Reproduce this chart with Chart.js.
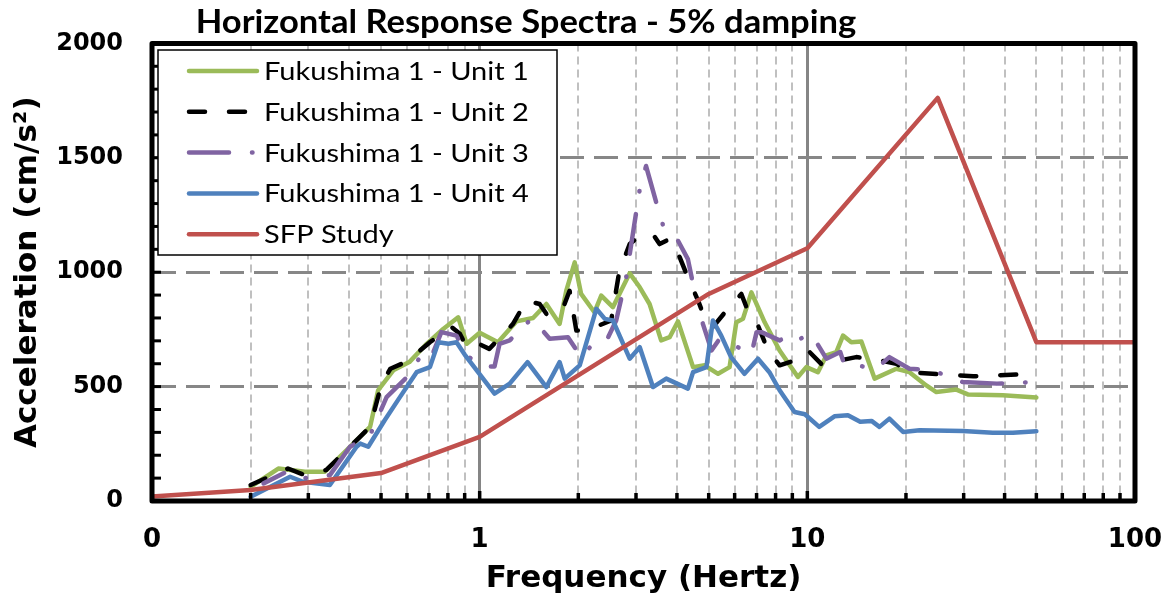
<!DOCTYPE html>
<html>
<head>
<meta charset="utf-8">
<script src="https://cdn.jsdelivr.net/npm/chart.js@4.4.1/dist/chart.umd.min.js"></script>
<style>
html,body{margin:0;padding:0;background:#ffffff;}
#wrap{width:1167px;height:602px;position:relative;}
</style>
</head>
<body>
<div id="wrap"><canvas id="c" width="1167" height="602"></canvas></div>
<script>
// ---------- text ----------
const chartTitle = 'Horizontal Response Spectra - 5% damping';
const xAxisTitle = 'Frequency (Hertz)';
const yAxisTitle = 'Acceleration (cm/s²)';
const seriesLabels = ['Fukushima 1 - Unit 1','Fukushima 1 - Unit 2','Fukushima 1 - Unit 3','Fukushima 1 - Unit 4','SFP Study'];

// ---------- tick values ----------
const frequencyTicks = [0.1,0.2,0.3,0.4,0.5,0.6,0.7,0.8,0.9,1,2,3,4,5,6,7,8,9,10,20,30,40,50,60,70,80,90,100];
const frequencyLabelValues = [0.1,1,10,100];
const frequencyLabelTexts = ['0','1','10','100'];
const accelerationTicks = [0,500,1000,1500,2000];
const accelerationTickLabels = ['0','500','1000','1500','2000'];

// ---------- series (Hz, cm/s²) ----------
const unit1Freq = [0.2,0.243,0.293,0.337,0.402,0.463,0.49,0.545,0.61,0.689,0.774,0.86,0.913,1.0,1.137,1.294,1.455,1.598,1.754,1.838,1.95,2.04,2.24,2.35,2.55,2.87,3.08,3.3,3.58,3.8,4.03,4.48,4.86,5.34,5.79,6.07,6.36,6.75,7.41,8.23,9.36,9.93,10.77,11.43,12.26,12.85,13.62,14.62,16.04,18.69,20.5,23.07,24.76,28.5,30.9,39.5,50];
const unit1Acc  = [62,142,128,128,237,324,484,571,607,687,752,803,687,735,694,785,800,861,774,919,1043,905,825,898,847,995,934,861,702,716,785,585,593,556,585,781,796,912,781,658,542,585,563,636,651,723,694,697,535,578,563,505,476,487,466,462,452];

const unit2Freq = [0.2,0.26,0.293,0.34,0.374,0.426,0.463,0.502,0.534,0.594,0.658,0.705,0.821,0.87,0.913,0.965,1.0,1.07,1.264,1.388,1.524,1.598,1.776,1.881,1.973,2.115,2.52,2.67,2.87,3.08,3.38,3.54,3.8,4.08,4.32,4.64,4.92,5.15,5.66,6.29,6.67,7.07,7.59,8.23,9.14,10.05,11.13,11.83,14.1,15.8,18.7,20.5,24.1,32.1,50];
const unit2Acc  = [70,142,113,135,193,273,324,513,578,607,658,694,760,731,672,672,685,665,774,876,861,818,825,919,745,745,789,1007,1123,1159,1166,1123,1145,1065,977,876,780,760,832,905,810,767,658,593,614,658,593,607,629,622,600,563,556,545,556];

const unit3Freq = [0.219,0.258,0.289,0.349,0.402,0.463,0.52,0.594,0.658,0.705,0.764,0.85,0.913,1.02,1.11,1.15,1.235,1.438,1.524,1.635,1.86,2.04,2.22,2.44,2.61,2.8,2.9,3.08,3.22,3.46,3.63,3.98,4.32,4.48,4.8,5.1,5.4,6.29,6.75,7.0,7.24,8.23,8.82,9.36,10.1,10.5,11.43,12.6,13.0,14.1,16.2,17.8,20.5,24.1,29.8,37.9,50];
const unit3Acc  = [77,128,99,113,237,288,454,535,629,614,738,723,636,588,588,687,702,796,760,709,716,629,687,702,789,977,1120,1363,1464,1304,1203,1152,1057,948,774,658,709,665,643,738,738,702,723,702,731,709,622,651,593,593,578,629,578,571,520,513,520];

const unit4Freq = [0.2,0.264,0.289,0.349,0.421,0.432,0.457,0.513,0.571,0.642,0.705,0.748,0.803,0.85,0.9,1.11,1.235,1.4,1.598,1.754,1.818,2.02,2.27,2.41,2.55,2.87,3.08,3.38,3.71,4.32,4.48,4.92,5.15,5.46,5.85,6.43,7.07,7.66,8.23,9.14,9.83,10.87,12.1,13.3,14.5,15.7,16.6,17.8,19.6,22.0,29.8,36.8,42.4,50];
const unit4Acc  = [19,106,84,70,237,251,237,353,454,563,585,694,687,694,640,469,513,607,498,607,535,593,840,796,789,622,672,498,535,491,563,585,789,723,629,556,622,563,484,389,379,324,370,375,346,350,324,360,302,309,306,298,298,305];

const sfpFreq = [0.1,0.2,0.5,1,5,10,25,50,100];
const sfpAcc  = [20,48,122,280,905,1105,1762,694,694];

// ---------- styles ----------
const seriesColors = ['#9BBB59','#000000','#8064A2','#4F81BD','#C0504D'];
const seriesDashes = [[],[16,24],[40,23,0.5,23],[],[]];
const seriesDashOffsets = [0,0,17,0,0];
const seriesLineWidth = 4.5;

function toPoints(freq, acc){ return freq.map((f,i)=>({x:f, y:acc[i]})); }
function isDecade(v){ const l = Math.log10(v); return Math.abs(l - Math.round(l)) < 1e-9; }

const seriesData = [
  toPoints(unit1Freq, unit1Acc),
  toPoints(unit2Freq, unit2Acc),
  toPoints(unit3Freq, unit3Acc),
  toPoints(unit4Freq, unit4Acc),
  toPoints(sfpFreq, sfpAcc)
];
const drawOrder = [4,3,2,1,0];

const datasets = seriesData.map((d,i)=>({
  label: seriesLabels[i],
  data: d,
  borderColor: seriesColors[i],
  backgroundColor: seriesColors[i],
  borderWidth: seriesLineWidth,
  borderDash: seriesDashes[i],
  borderDashOffset: seriesDashOffsets[i],
  borderCapStyle: 'round',
  borderJoinStyle: 'round',
  pointRadius: 0,
  pointHoverRadius: 0,
  tension: 0,
  fill: false,
  order: drawOrder[i]
}));

const TICK_FONT = 'DejaVu Sans';

const frameAndTicks = {
  id: 'frameAndTicks',
  afterDatasetsDraw(chart){
    const {ctx, chartArea:{left,right,top,bottom}, scales:{x,y}} = chart;
    ctx.save();
    ctx.strokeStyle = '#000';
    ctx.lineCap = 'butt';
    ctx.lineWidth = 3;
    for (let v = 0; v <= 2000; v += 100){
      const py = y.getPixelForValue(v);
      ctx.beginPath(); ctx.moveTo(left, py); ctx.lineTo(left + 9, py); ctx.stroke();
    }
    ctx.lineWidth = 3.5;
    x.ticks.forEach(t=>{
      const px = x.getPixelForValue(t.value);
      const len = isDecade(t.value) ? 10 : 8;
      ctx.beginPath(); ctx.moveTo(px, bottom); ctx.lineTo(px, bottom - len); ctx.stroke();
    });
    ctx.lineWidth = 5;
    ctx.lineJoin = 'round';
    ctx.strokeRect(left, top, right - left, bottom - top);
    ctx.restore();
  }
};

const boxLegend = {
  id: 'boxLegend',
  afterDraw(chart){
    const {ctx} = chart;
    const bx = 158, by = 50, bw = 399, bh = 205;
    ctx.save();
    ctx.fillStyle = '#fff';
    ctx.fillRect(bx, by, bw, bh);
    ctx.strokeStyle = '#000';
    ctx.lineWidth = 1.5;
    ctx.strokeRect(bx, by, bw, bh);
    const rowY0 = 71, rowStep = 40.8;
    chart.data.datasets.forEach((ds,i)=>{
      const cy = rowY0 + i*rowStep;
      ctx.beginPath();
      ctx.strokeStyle = ds.borderColor;
      ctx.lineWidth = ds.borderWidth;
      ctx.lineCap = 'round';
      ctx.setLineDash(ds.borderDash || []);
      ctx.lineDashOffset = 0;
      ctx.moveTo(189, cy); ctx.lineTo(257, cy);
      ctx.stroke();
      ctx.setLineDash([]);
      ctx.save();
      ctx.translate(264, cy + 1);
      ctx.scale(1.16, 1);
      ctx.fillStyle = '#000';
      ctx.font = '25px Lato';
      ctx.textBaseline = 'middle';
      ctx.textAlign = 'left';
      ctx.fillText(ds.label, 0, 0);
      ctx.restore();
    });
    ctx.save();
    ctx.translate(526, 33);
    ctx.scale(1.08, 1);
    ctx.font = 'bold 32px Lato';
    ctx.textAlign = 'center';
    ctx.textBaseline = 'alphabetic';
    ctx.fillStyle = '#000';
    ctx.fillText(chartTitle, 0, 0);
    ctx.restore();
    ctx.restore();
  }
};

new Chart(document.getElementById('c'), {
  type: 'line',
  data: { datasets },
  options: {
    responsive: false,
    devicePixelRatio: 1,
    animation: false,
    events: [],
    layout: { padding: { left: 0, right: 32, top: 42, bottom: 0 } },
    plugins: { legend: { display: false }, title: { display: false }, tooltip: { enabled: false } },
    scales: {
      x: {
        type: 'logarithmic',
        min: 0.1, max: 100,
        afterBuildTicks(scale){ scale.ticks = frequencyTicks.map(v=>({value:v, major: isDecade(v)})); },
        afterFit(scale){ scale.height = 101; scale.paddingRight = 28; },
        ticks: {
          autoSkip: false, maxRotation: 0, minRotation: 0,
          padding: 0,
          color: '#000',
          font: { family: TICK_FONT, weight: 'bold', size: 26, lineHeight: 3.0 },
          callback(v){ const k = frequencyLabelValues.findIndex(t => Math.abs(t - v) < 1e-9); return k >= 0 ? frequencyLabelTexts[k] : ''; }
        },
        grid: {
          drawTicks: false,
          color(ctx){ const v = ctx.tick && ctx.tick.value; if (v === undefined || v <= 0.1 || v >= 100) return 'rgba(0,0,0,0)'; return isDecade(v) ? '#858585' : '#C0C0C0'; },
          lineWidth(ctx){ const v = ctx.tick && ctx.tick.value; return (v !== undefined && isDecade(v)) ? 3 : 2; }
        },
        border: {
          display: false,
          dash(ctx){ const v = ctx.tick && ctx.tick.value; return (v !== undefined && isDecade(v)) ? [] : [8,5]; }
        },
        title: {
          display: true, text: xAxisTitle, color: '#000',
          font: { family: TICK_FONT, weight: 'bold', size: 31 },
          padding: { top: 0, bottom: 4 }
        }
      },
      y: {
        type: 'linear',
        min: 0, max: 2000,
        afterBuildTicks(scale){ scale.ticks = accelerationTicks.map(v=>({value:v})); },
        afterFit(scale){ scale.width = 152; },
        ticks: {
          padding: 29,
          color: '#000',
          font: { family: TICK_FONT, weight: 'bold', size: 24 },
          callback(v){ const k = accelerationTicks.indexOf(v); return k >= 0 ? accelerationTickLabels[k] : ''; }
        },
        grid: {
          drawTicks: false,
          color(ctx){ const v = ctx.tick && ctx.tick.value; return (v > 0 && v < 2000) ? '#878787' : 'rgba(0,0,0,0)'; },
          lineWidth: 3
        },
        border: { display: false, dash: [24,10] },
        title: {
          display: true, text: yAxisTitle, color: '#000',
          font: { family: TICK_FONT, weight: 'bold', size: 31 },
          padding: { top: 9, bottom: 0 }
        }
      }
    }
  },
  plugins: [frameAndTicks, boxLegend]
});
</script>
</body>
</html>
